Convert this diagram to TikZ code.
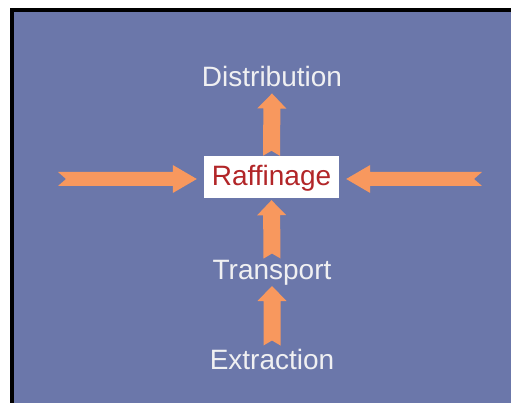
\documentclass[tikz,border=0pt]{standalone}
\usepackage{fontspec}
\setmainfont{Liberation Sans}
\usetikzlibrary{calc}
\definecolor{bgblue}{RGB}{107,119,170}
\definecolor{arrorange}{RGB}{248,152,94}
\definecolor{rafred}{RGB}{178,38,40}
\definecolor{txtwhite}{RGB}{240,240,242}
\tikzset{
  fat/.style n args={4}{to path={
    let \p1=(\tikztostart), \p2=(\tikztotarget),
        \n1={atan2(\y2-\y1,\x2-\x1)}, \n2={veclen(\x2-\x1,\y2-\y1)} in
    ([shift={(\p1)},rotate=\n1]0,#1) -- ([shift={(\p1)},rotate=\n1]#4,0)
    -- ([shift={(\p1)},rotate=\n1]0,-#1)
    -- ([shift={(\p1)},rotate=\n1]{\n2-#3},-#1) -- ([shift={(\p1)},rotate=\n1]{\n2-#3},-#2)
    -- ([shift={(\p1)},rotate=\n1]\n2,0) -- ([shift={(\p1)},rotate=\n1]{\n2-#3},#2)
    -- ([shift={(\p1)},rotate=\n1]{\n2-#3},#1) -- cycle
  }},
  vfat/.style={fill=arrorange, fat={8.5}{14.5}{15}{5}},
  hfat/.style={fill=arrorange, fat={7}{14}{24}{8}},
  label/.style={text=txtwhite, inner sep=0pt, anchor=base, font=\fontsize{28}{30}\selectfont},
  rafbox/.style={fill=white, draw=none, minimum width=135pt, minimum height=42pt, inner sep=0pt,
    text=rafred, text height=20pt, text depth=2pt, font=\fontsize{28}{30}\selectfont}
}
\begin{document}
\begin{tikzpicture}[x=1pt,y=1pt]
\useasboundingbox (0,0) rectangle (512,403);
\fill[white] (0,0) rectangle (512,403);
\fill[black] (10,0) rectangle (511,395);
\fill[bgblue] (14,0) rectangle (511,391);

\node[rafbox] (raf) at (271.5,226) {Raffinage};
\node[label] (dist) at (272,316) {Distribution};
\node[label] (trans) at (272,123) {Transport};
\node[label] (extr) at (272,33) {Extraction};

\coordinate (a1t) at (raf.north);
\coordinate (a1h) at ([yshift=-6pt]dist.south);
\coordinate (a2t) at ([yshift=2pt]trans.north);
\coordinate (a2h) at ([yshift=-2pt]raf.south);
\coordinate (a3t) at ([yshift=4pt]extr.north);
\coordinate (a3h) at (trans.south);
\coordinate (lt) at (58,224);
\coordinate (lh) at ([shift={(-7pt,-2pt)}]raf.west);
\coordinate (rt) at (482,224);
\coordinate (rh) at ([shift={(7pt,-2pt)}]raf.east);

\path[vfat] (a1t) to (a1h);
\path[vfat] (a2t) to (a2h);
\path[vfat] (a3t) to (a3h);
\path[hfat] (lt) to (lh);
\path[hfat] (rt) to (rh);
\end{tikzpicture}
\end{document}
